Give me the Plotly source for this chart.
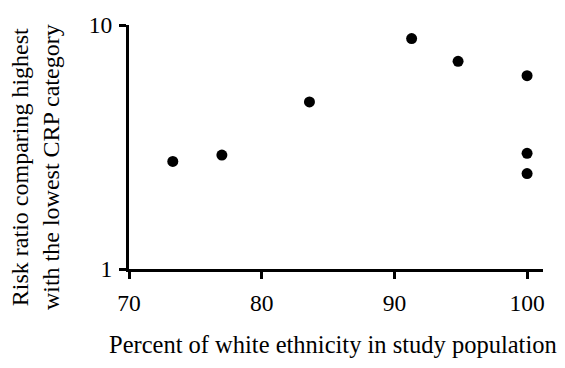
import plotly.graph_objects as go

# Data
pct_white = [73.3, 77.0, 83.6, 91.3, 94.8, 100.0, 100.0, 100.0]
risk_ratio = [2.76, 2.93, 4.84, 8.8, 7.1, 6.2, 2.98, 2.46]

x_ticks = [70, 80, 90, 100]
y_ticks = [1, 10]
x_title = "Percent of white ethnicity in study population"
y_title = "Risk ratio comparing highest<br>with the lowest CRP category"

FONT = "Liberation Serif, Times New Roman, serif"

fig = go.Figure(
    go.Scatter(
        x=pct_white,
        y=risk_ratio,
        mode="markers",
        marker=dict(color="black", size=11, line=dict(width=0)),
        cliponaxis=False,
        showlegend=False,
    )
)

fig.update_layout(
    width=565,
    height=368,
    margin=dict(l=129, r=22, t=22, b=99),
    paper_bgcolor="white",
    plot_bgcolor="white",
    font=dict(family=FONT, size=23, color="black"),
    xaxis=dict(
        range=[70, 101.2],
        tickvals=x_ticks,
        ticktext=[str(v) for v in x_ticks],
        showgrid=False,
        zeroline=False,
        showline=True,
        linecolor="black",
        linewidth=3,
        ticks="outside",
        ticklen=7,
        tickwidth=3,
        tickcolor="black",
        ticklabelstandoff=4,
        tickfont=dict(family=FONT, size=23.5),
    ),
    yaxis=dict(
        type="log",
        range=[0, 1],
        tickvals=y_ticks,
        ticktext=[str(v) for v in y_ticks],
        showgrid=False,
        zeroline=False,
        showline=True,
        linecolor="black",
        linewidth=3,
        ticks="outside",
        ticklen=7,
        tickwidth=3,
        tickcolor="black",
        ticklabelstandoff=2,
        tickfont=dict(family=FONT, size=23.5),
    ),
    annotations=[
        dict(
            text=x_title,
            xref="paper", yref="paper",
            x=0.4935, y=-0.31,
            xanchor="center", yanchor="middle",
            showarrow=False,
            font=dict(family=FONT, size=24.5),
        ),
        dict(
            text=y_title,
            xref="paper", yref="paper",
            x=-0.2275, y=0.417,
            xanchor="center", yanchor="middle",
            textangle=-90,
            showarrow=False,
            font=dict(family=FONT, size=24),
        ),
    ],
)

fig.write_html(
    "out.html",
    config={"displayModeBar": False},
    post_script="document.body.style.margin='0';document.body.style.padding='0';",
)
